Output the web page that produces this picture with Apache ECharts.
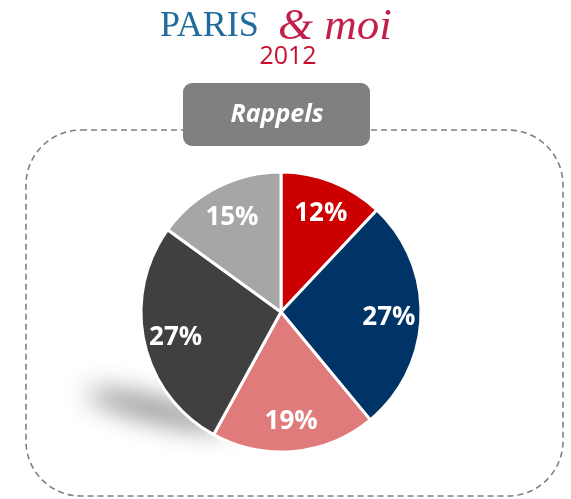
<!DOCTYPE html>
<html>
<head>
<meta charset="utf-8">
<script src="https://cdn.jsdelivr.net/npm/echarts@6/dist/echarts.min.js"></script>
<style>
  html, body { margin: 0; padding: 0; background: #fff; }
  #chart { width: 571px; height: 499px; }
</style>
</head>
<body>
<div id="chart"></div>
<script>
// data (clockwise from 12 o'clock)
var categories = ['Part 1', 'Part 2', 'Part 3', 'Part 4', 'Part 5'];
var values = [12, 27, 19, 27, 15];
var colors = ['#cc0000', '#003366', '#e07b7b', '#404040', '#a6a6a6'];

var pieData = categories.map(function (name, i) {
  return { name: name, value: values[i], itemStyle: { color: colors[i] } };
});

var chart = echarts.init(document.getElementById('chart'));

chart.setOption({
  animation: false,
  graphic: [
    // frame
    {
      type: 'rect', z: 1,
      shape: { x: 26, y: 130, width: 537, height: 366, r: 55 },
      style: { fill: 'none', stroke: '#808080', lineWidth: 1.6, lineDash: [6, 4] }
    },
    // soft shadow under the pie (drawn off canvas, only the blurred shadow shows)
    {
      type: 'ellipse', z: 0, x: -843, y: 410, rotation: -0.24,
      shape: { cx: 0, cy: 0, rx: 72, ry: 11 },
      style: {
        fill: '#000', shadowColor: 'rgba(0,0,0,0.45)', shadowBlur: 26,
        shadowOffsetX: 1000, shadowOffsetY: 0
      }
    },
    // header box
    {
      type: 'rect', z: 5,
      shape: { x: 183, y: 83, width: 187, height: 63, r: 9 },
      style: { fill: '#808080' }
    },
    {
      type: 'text', z: 6, x: 277, y: 115,
      style: {
        text: 'Rappels', fill: '#fff', align: 'center', verticalAlign: 'middle',
        font: 'italic bold 25px "Open Sans"'
      }
    },
    // title
    {
      type: 'text', z: 6, x: 160, y: 9,
      style: {
        text: 'PARIS', fill: '#1f6b9b', verticalAlign: 'top',
        font: '36px "Liberation Serif"'
      }
    },
    {
      type: 'text', z: 6, x: 278, y: 5,
      style: {
        text: '& moi', fill: '#c41e4a', verticalAlign: 'top',
        font: 'italic 45px "Liberation Serif"'
      }
    },
    {
      type: 'text', z: 6, x: 288, y: 57,
      style: {
        text: '2012', fill: '#c8102e', align: 'center', verticalAlign: 'middle',
        font: '25px "Open Sans"'
      }
    }
  ],
  series: [
    {
      type: 'pie',
      center: [281, 312],
      radius: [0, 140],
      startAngle: 90,
      silent: true,
      itemStyle: { borderColor: '#fff', borderWidth: 3 },
      label: { show: false },
      labelLine: { show: false },
      data: pieData
    },
    {
      // label layer: ring places the labels further out than the default inside spot
      type: 'pie',
      center: [281, 314],
      radius: [70, 140],
      startAngle: 90,
      silent: true,
      itemStyle: { color: 'rgba(0,0,0,0)', borderWidth: 0 },
      label: {
        show: true,
        position: 'inside',
        formatter: '{c}%',
        color: '#fff',
        fontFamily: 'Open Sans',
        fontWeight: 'bold',
        fontSize: 26
      },
      labelLine: { show: false },
      data: categories.map(function (name, i) {
        return { name: name, value: values[i] };
      })
    }
  ]
});
</script>
</body>
</html>
